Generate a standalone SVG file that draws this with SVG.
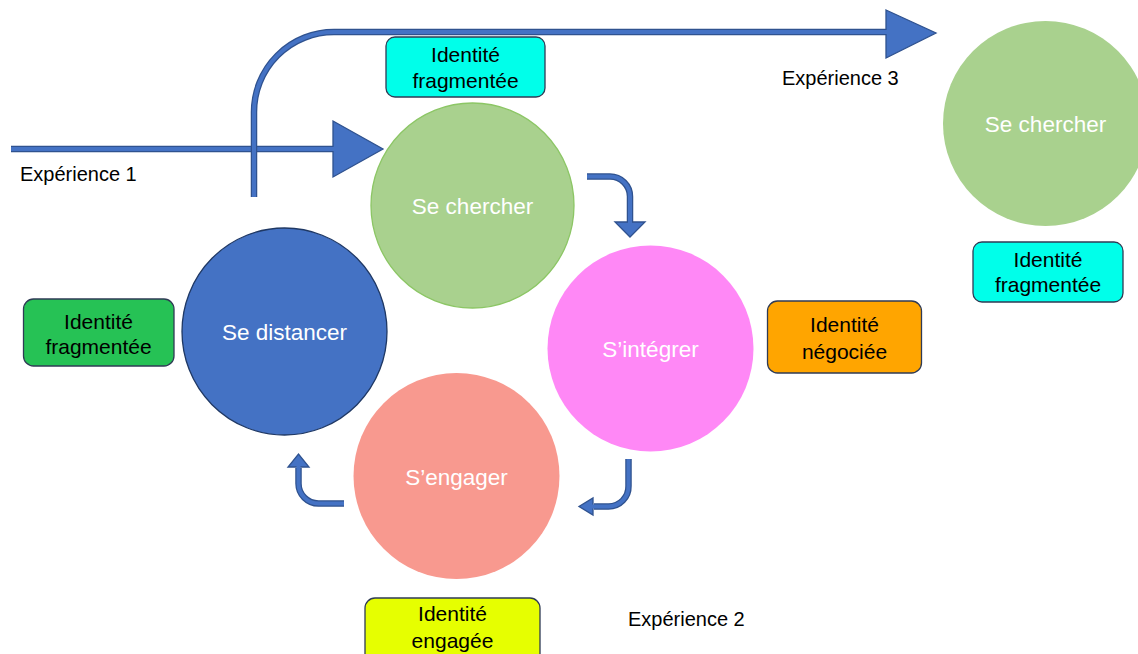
<svg xmlns="http://www.w3.org/2000/svg" width="1138" height="654" viewBox="0 0 1138 654">
<style>
text{font-family:"Liberation Sans",Arial,sans-serif;}
.lbl{font-size:22.5px;fill:#ffffff;text-anchor:middle;}
.box{stroke:#2F3B55;stroke-width:1.3;}
.bt{font-size:21px;fill:#000000;text-anchor:middle;}
.exp{font-size:20px;fill:#000000;}
.so{fill:none;stroke:#2F528F;stroke-width:6.5;}
.si{fill:none;stroke:#4472C4;stroke-width:4;}
.head{fill:#4472C4;stroke:#2F528F;stroke-width:1.3;stroke-linejoin:miter;}
</style>
<rect width="1138" height="654" fill="#ffffff"/>
<g id="connectors">
  <path class="so" d="M11,149 H336"/>
  <polygon class="head" points="333,121 383,149 333,177"/>
  <path class="si" d="M11,149 H338"/>
  <path class="so" d="M254,197 V112 A80,80 0 0 1 334,32 H888"/>
  <polygon class="head" points="886,10 936,33 886,58"/>
  <path class="si" d="M254,197 V112 A80,80 0 0 1 334,32 H890"/>
  <path class="so" d="M587,176.5 H610 A20,20 0 0 1 630,196.5 V223"/>
  <polygon class="head" points="615,222 645,222 630,237"/>
  <path class="si" d="M587,176.5 H610 A20,20 0 0 1 630,196.5 V224"/>
  <path class="so" d="M628.5,459 V486 A20,20 0 0 1 608.5,506.5 H594"/>
  <polygon class="head" points="593,498 593,515 579,506.5"/>
  <path class="si" d="M628.5,459 V486 A20,20 0 0 1 608.5,506.5 H592"/>
  <path class="so" d="M344,503.5 H318.5 A20,20 0 0 1 298.5,483.5 V468"/>
  <polygon class="head" points="288,467 309,467 298.5,454"/>
  <path class="si" d="M344,503.5 H318.5 A20,20 0 0 1 298.5,483.5 V466"/>
</g>
<g id="se-chercher">
  <ellipse cx="472.5" cy="205.5" rx="101.5" ry="102.5" fill="#A9D18E" stroke="#8CC665" stroke-width="1.3"/>
  <text class="lbl" x="472.5" y="214">Se chercher</text>
</g>
<g id="s-integrer">
  <circle cx="650.5" cy="348.5" r="103" fill="#FF88F6"/>
  <text class="lbl" x="650.5" y="357">S’intégrer</text>
</g>
<g id="s-engager">
  <circle cx="456.5" cy="476" r="103" fill="#F8998F"/>
  <text class="lbl" x="456.5" y="485">S’engager</text>
</g>
<g id="se-distancer">
  <ellipse cx="284.5" cy="331.5" rx="102.5" ry="103.5" fill="#4472C4" stroke="#1F3864" stroke-width="1.3"/>
  <text class="lbl" x="284.5" y="340">Se distancer</text>
</g>
<g id="se-chercher-2">
  <circle cx="1045.5" cy="123.5" r="102.5" fill="#A9D18E"/>
  <text class="lbl" x="1045.5" y="132">Se chercher</text>
</g>
<g id="box-top">
  <rect class="box" x="386" y="37" width="159" height="60" rx="9" fill="#00FFEA"/>
  <text class="bt" x="465.5" y="62">Identité</text>
  <text class="bt" x="465.5" y="88">fragmentée</text>
</g>
<g id="box-left">
  <rect class="box" x="23.5" y="299" width="150.5" height="67" rx="10" fill="#26C255"/>
  <text class="bt" x="98.5" y="329">Identité</text>
  <text class="bt" x="98.5" y="354">fragmentée</text>
</g>
<g id="box-orange">
  <rect class="box" x="767.5" y="301" width="154" height="72" rx="10" fill="#FFA500"/>
  <text class="bt" x="844.5" y="332">Identité</text>
  <text class="bt" x="844.5" y="359">négociée</text>
</g>
<g id="box-right">
  <rect class="box" x="973" y="242" width="150" height="60" rx="9" fill="#00FFEA"/>
  <text class="bt" x="1048" y="267">Identité</text>
  <text class="bt" x="1048" y="292">fragmentée</text>
</g>
<g id="box-yellow">
  <rect class="box" x="365" y="598" width="175" height="70" rx="10" fill="#E6FF00"/>
  <text class="bt" x="452.5" y="621">Identité</text>
  <text class="bt" x="452.5" y="648">engagée</text>
</g>
<g id="labels">
  <text class="exp" x="20" y="181">Expérience 1</text>
  <text class="exp" x="782" y="85">Expérience 3</text>
  <text class="exp" x="628" y="626">Expérience 2</text>
</g>
</svg>
